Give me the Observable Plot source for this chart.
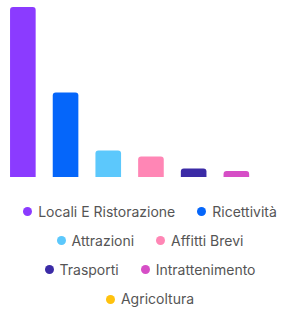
<!DOCTYPE html>
<html>
<head>
<meta charset="utf-8">
<script src="https://cdn.jsdelivr.net/npm/d3@7"></script>
<script src="https://cdn.jsdelivr.net/npm/@observablehq/plot@0.6"></script>
<style>
  html, body { margin: 0; padding: 0; background: #fff; }
  body { width: 282px; height: 310px; overflow: hidden; font-family: Inter, "Noto Sans", sans-serif; }
  #legend {
    display: flex; flex-wrap: wrap; justify-content: center;
    padding-left: 18px; margin-top: 11.5px;
    column-gap: 22px; row-gap: 0;
    font-size: 14px; color: #555;
  }
  .item { display: flex; align-items: center; line-height: 29.3px; height: 29.3px; white-space: nowrap; }
  .dot { width: 9px; height: 9px; border-radius: 50%; margin-right: 6px; }
</style>
</head>
<body>
<div id="chart"></div>
<div id="legend"></div>
<script>
const categories = ["Locali E Ristorazione", "Ricettività", "Attrazioni", "Affitti Brevi", "Trasporti", "Intrattenimento", "Agricoltura"];
const values = [170, 84.5, 26.5, 20.5, 8.5, 6, 0];
const colors = ["#8B3BFF", "#0566FA", "#5CC8FC", "#FF86B5", "#3B2BA6", "#D64EC6", "#FFC20E"];

const data = categories.map((c, i) => ({category: c, value: values[i]}));

const plot = Plot.plot({
  width: 282,
  height: 185,
  marginTop: 7,
  marginBottom: 8,
  marginLeft: 0,
  marginRight: 0,
  x: {domain: categories, range: [1.5, 300.4], paddingInner: 0.4, paddingOuter: 0.2, round: false, axis: null},
  y: {domain: [0, 170], axis: null},
  color: {domain: categories, range: colors},
  marks: [
    Plot.barY(data, {x: "category", y: "value", fill: "category", rx: 3, insetBottom: -4, clip: true})
  ]
});
document.getElementById("chart").appendChild(plot);

const color = plot.scale("color");
const legend = d3.select("#legend");
categories.forEach((c, i) => {
  const item = legend.append("div").attr("class", "item");
  item.append("span").attr("class", "dot").style("background", colors[i]);
  item.append("span").text(c);
});
</script>
</body>
</html>
